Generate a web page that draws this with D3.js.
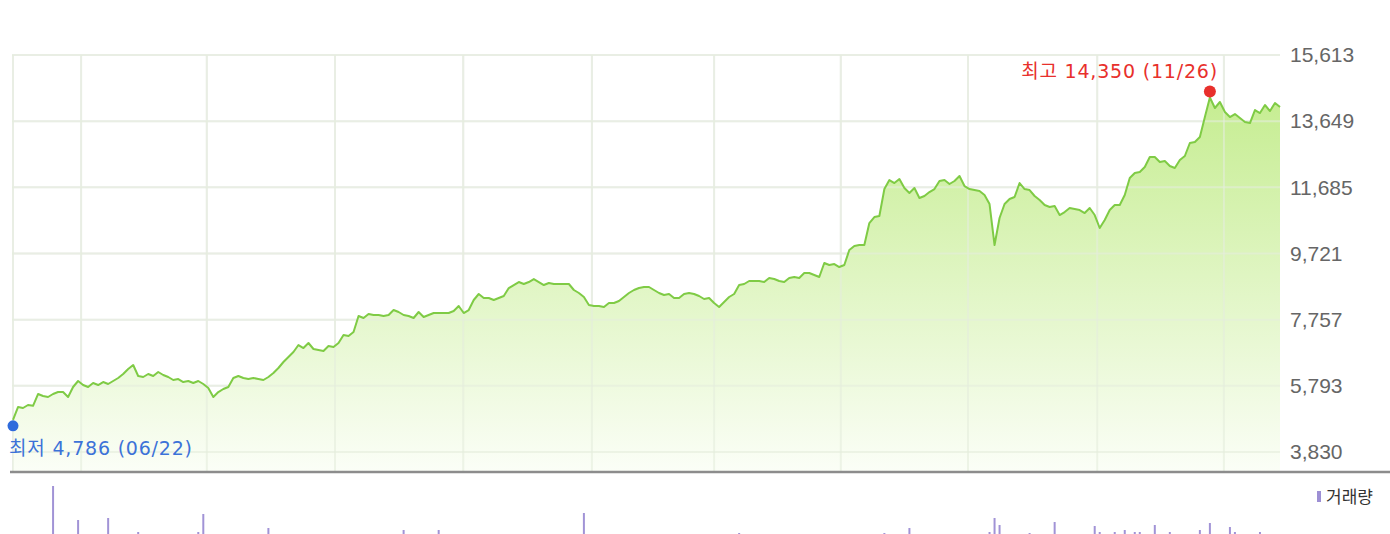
<!DOCTYPE html>
<html>
<head>
<meta charset="utf-8">
<script src="https://cdn.jsdelivr.net/npm/d3@7"></script>
<style>
  html, body { margin: 0; padding: 0; background: #fff; }
  #chart { width: 1390px; height: 534px; overflow: hidden; }
</style>
</head>
<body>
<div id="chart"></div>
<script>
// price per trading day (index 0 = 06/22)
var prices = [
  4786, 5165, 5136, 5225, 5200, 5551, 5491, 5462, 5551, 5610,
  5610, 5462, 5759, 5937, 5818, 5759, 5878, 5818, 5907, 5848,
  5937, 6026, 6145, 6293, 6412, 6085, 6056, 6145, 6085, 6204,
  6115, 6056, 5967, 5996, 5907, 5937, 5878, 5937, 5848, 5730,
  5462, 5610, 5700, 5759, 6026, 6085, 6026, 5996, 6026, 5996,
  5967, 6056, 6174, 6323, 6501, 6649, 6798, 7005, 6916, 7065,
  6887, 6857, 6827, 6976, 6946, 7065, 7302, 7272, 7391, 7866,
  7807, 7926, 7896, 7896, 7866, 7896, 8044, 7985, 7896, 7866,
  7807, 7985, 7837, 7896, 7955, 7955, 7955, 7955, 8014, 8163,
  7955, 8044, 8341, 8519, 8400, 8400, 8341, 8400, 8460, 8697,
  8786, 8875, 8816, 8875, 8964, 8875, 8786, 8846, 8816, 8816,
  8816, 8816, 8638, 8549, 8430, 8193, 8163, 8163, 8133, 8252,
  8252, 8311, 8430, 8549, 8638, 8697, 8727, 8727, 8638, 8549,
  8489, 8519, 8400, 8400, 8519, 8549, 8519, 8460, 8371, 8400,
  8252, 8133, 8282, 8430, 8519, 8786, 8816, 8905, 8905, 8905,
  8875, 8994, 8964, 8905, 8875, 8994, 9024, 8994, 9142, 9142,
  9083, 9024, 9439, 9380, 9409, 9320, 9380, 9825, 9943, 9973,
  9973, 10626, 10804, 10834, 11635, 11902, 11813, 11932, 11665, 11516,
  11665, 11368, 11428, 11546, 11635, 11873, 11902, 11784, 11873, 12021,
  11724, 11635, 11605, 11576, 11457, 11190, 9973, 10775, 11190, 11339,
  11398, 11813, 11635, 11605, 11428, 11309, 11160, 11101, 11131, 10863,
  10952, 11071, 11042, 11012, 10923, 11071, 10863, 10478, 10715, 11012,
  11160, 11160, 11457, 11962, 12110, 12140, 12288, 12585, 12585, 12437,
  12466, 12318, 12259, 12496, 12615, 13001, 13031, 13179, 13772, 14350,
  14040, 14218, 13921, 13772, 13861, 13743, 13624, 13594, 13980, 13891,
  14129, 13950, 14188, 14069
];

// the volume bars that reach into the visible strip (day index, thousand shares)
var volumeDays = [8, 13, 19, 25, 37, 38, 51, 78, 85, 114, 145, 174, 179, 195, 196, 197,
  203, 208, 216, 217, 220, 222, 224, 225, 228, 231, 237, 239, 243, 244, 249];
var volumes = [1140, 800, 820, 680, 680, 860, 720, 700, 700, 870, 670, 670, 720, 680, 820, 750,
  670, 780, 740, 680, 680, 700, 680, 680, 750, 680, 700, 770, 730, 680, 680];

var priceTicks = [3830, 5793, 7757, 9721, 11685, 13649, 15613];
var gridDays = [0, 13.6, 38.7, 64.3, 89.9, 115.6, 140, 165.3, 190.7, 216.5, 241.8];

var lowLabel = '최저 4,786 (06/22)',
  highLabel = '최고 14,350 (11/26)',
  volumeLabel = '거래량';

var Chart = function() {
  var width = 1390,
    height = 534,
    left = 13,
    right = 1280,
    top = 55,
    bottom = 452,
    baseY = 472;

  var svg = d3.select('#chart')
    .append('svg')
    .attr('width', width)
    .attr('height', height);

  var x = d3.scaleLinear()
    .domain([0, prices.length - 1])
    .range([left, right]);

  var y = d3.scaleLinear()
    .domain([priceTicks[0], priceTicks[priceTicks.length - 1]])
    .range([bottom, top]);

  var v = d3.scaleLinear()
    .domain([0, 1200])
    .range([600, 480]);

  var grad = svg.append('defs')
    .append('linearGradient')
    .attr('id', 'fill')
    .attr('gradientUnits', 'userSpaceOnUse')
    .attr('x1', 0).attr('x2', 0)
    .attr('y1', top).attr('y2', baseY);
  grad.append('stop').attr('offset', '0%').attr('stop-color', '#c0eb86');
  grad.append('stop').attr('offset', '100%').attr('stop-color', '#fbfef7');

  // grid
  svg.append('g')
    .selectAll('line')
    .data(priceTicks)
    .enter()
    .append('line')
    .attr('x1', left - 1)
    .attr('x2', right)
    .attr('y1', function(d) { return y(d); })
    .attr('y2', function(d) { return y(d); })
    .attr('stroke', '#efefef')
    .attr('stroke-width', 2);

  svg.append('g')
    .selectAll('line')
    .data(gridDays)
    .enter()
    .append('line')
    .attr('x1', function(d) { return x(d); })
    .attr('x2', function(d) { return x(d); })
    .attr('y1', top)
    .attr('y2', baseY)
    .attr('stroke', '#efefef')
    .attr('stroke-width', 2);

  // price area + line
  var area = d3.area()
    .x(function(d, i) { return x(i); })
    .y0(baseY)
    .y1(function(d) { return y(d); });

  var line = d3.line()
    .x(function(d, i) { return x(i); })
    .y(function(d) { return y(d); });

  svg.append('path')
    .datum(prices)
    .attr('d', area)
    .attr('fill', 'url(#fill)');

  // grid lines show faintly through the fill
  svg.append('g')
    .selectAll('line')
    .data(gridDays)
    .enter()
    .append('line')
    .attr('x1', function(d) { return x(d); })
    .attr('x2', function(d) { return x(d); })
    .attr('y1', top)
    .attr('y2', baseY)
    .attr('stroke', '#e4ecdc')
    .attr('stroke-opacity', 0.6)
    .attr('stroke-width', 2);

  svg.append('g')
    .selectAll('line')
    .data(priceTicks)
    .enter()
    .append('line')
    .attr('x1', left - 1)
    .attr('x2', right)
    .attr('y1', function(d) { return y(d); })
    .attr('y2', function(d) { return y(d); })
    .attr('stroke', '#e4ecdc')
    .attr('stroke-opacity', 0.6)
    .attr('stroke-width', 2);

  svg.append('path')
    .datum(prices)
    .attr('d', line)
    .attr('fill', 'none')
    .attr('stroke', '#7fcb45')
    .attr('stroke-width', 2)
    .attr('stroke-linejoin', 'round');

  // base line
  svg.append('line')
    .attr('x1', 10)
    .attr('x2', width)
    .attr('y1', baseY)
    .attr('y2', baseY)
    .attr('stroke', '#8c8c8c')
    .attr('stroke-width', 2.5);

  // right axis
  var axis = d3.axisRight(y)
    .tickValues(priceTicks)
    .tickSize(0)
    .tickPadding(10)
    .tickFormat(d3.format(','));

  var ax = svg.append('g')
    .attr('transform', 'translate(' + right + ',0)')
    .call(axis);
  ax.select('.domain').remove();
  ax.selectAll('text')
    .attr('fill', '#666')
    .attr('font-family', '"Liberation Sans", Arial, sans-serif')
    .attr('font-size', 21);

  // volume
  svg.append('g')
    .selectAll('line')
    .data(volumeDays)
    .enter()
    .append('line')
    .attr('x1', function(d) { return x(d); })
    .attr('x2', function(d) { return x(d); })
    .attr('y1', function(d, i) { return v(volumes[i]); })
    .attr('y2', v(0))
    .attr('stroke', '#a193d6')
    .attr('stroke-width', 2);

  svg.append('rect')
    .attr('x', 1317)
    .attr('y', 491)
    .attr('width', 4)
    .attr('height', 11)
    .attr('fill', '#9d8fd4');
  svg.append('text')
    .attr('x', 1326)
    .attr('y', 503)
    .attr('fill', '#333')
    .attr('font-family', '"Noto Sans CJK KR", sans-serif')
    .attr('font-size', 17)
    .text(volumeLabel);

  // low / high markers
  var lowIdx = prices.indexOf(d3.min(prices)),
    highIdx = prices.indexOf(d3.max(prices));
  var labelFont = '"DejaVu Sans", "Noto Sans CJK KR", sans-serif';

  svg.append('circle')
    .attr('cx', x(lowIdx))
    .attr('cy', y(prices[lowIdx]) + 6)
    .attr('r', 5.5)
    .attr('fill', '#2f6bdc');
  svg.append('text')
    .attr('x', x(lowIdx) - 4)
    .attr('y', y(prices[lowIdx]) + 35)
    .attr('fill', '#3c72d8')
    .attr('font-family', labelFont)
    .attr('font-size', 19)
    .attr('letter-spacing', 0.8)
    .text(lowLabel);

  svg.append('circle')
    .attr('cx', x(highIdx))
    .attr('cy', y(prices[highIdx]) - 6)
    .attr('r', 6)
    .attr('fill', '#e8302c');
  svg.append('text')
    .attr('x', x(highIdx) + 8)
    .attr('y', y(prices[highIdx]) - 20)
    .attr('text-anchor', 'end')
    .attr('fill', '#e8302c')
    .attr('font-family', labelFont)
    .attr('font-size', 19)
    .attr('letter-spacing', 0.8)
    .text(highLabel);
};

Chart();
</script>
</body>
</html>
